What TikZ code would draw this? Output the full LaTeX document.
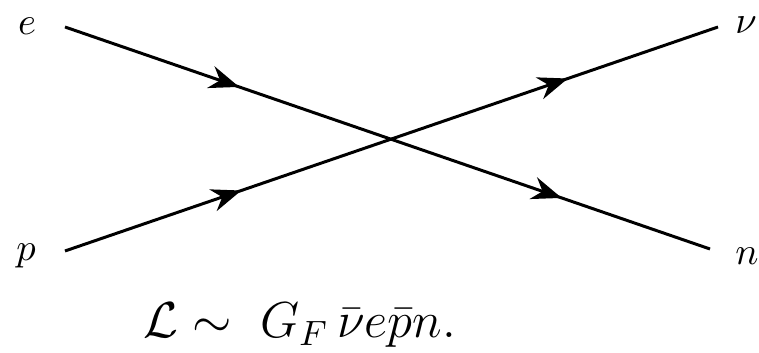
\documentclass[tikz,border=0pt]{standalone}
\usepackage{amsmath}
\usepackage{tikz}
\usetikzlibrary{arrows.meta,decorations.markings}

\begin{document}
\begin{tikzpicture}[
  font=\normalsize,
  >={Stealth[length=8.5pt,width=6.5pt]},
  particle/.style={inner sep=0pt, font=\fontsize{11}{13}\selectfont},
  fermion/.style={line width=0.85pt, black,
    postaction={decorate},
    decoration={markings,
      mark=at position 0.27 with {\arrow{>}},
      mark=at position 0.77 with {\arrow{>}}}},
  formula/.style={inner sep=0pt, anchor=base,
    font=\fontsize{14.5}{17}\selectfont}]

\useasboundingbox (0,0) rectangle (7.59,-3.53);

%% ---- etiquetas de las partículas ----
\node[particle] (e)  at (0.27,-0.26) {$e$};
\node[particle] (p)  at (0.26,-2.56) {$p$};
\node[particle] (nu) at (7.46,-0.25) {$\nu$};
\node[particle] (n)  at (7.47,-2.56) {$n$};

%% ---- extremos de las líneas ----
\coordinate (ein)   at (0.65,-0.27);
\coordinate (pin)   at (0.65,-2.51);
\coordinate (nout)  at (7.10,-2.49);
\coordinate (nuout) at (7.18,-0.27);

%% ---- vértice de cuatro fermiones ----
\draw[fermion] (ein) -- (nout);
\draw[fermion] (pin) -- (nuout);

%% ---- lagrangiano ----
\node[formula] (lag) at (3.00,-3.38)
  {$\mathcal{L} \sim \; G_F\,\bar{\nu} e \bar{p} n.$};
\end{tikzpicture}
\end{document}
